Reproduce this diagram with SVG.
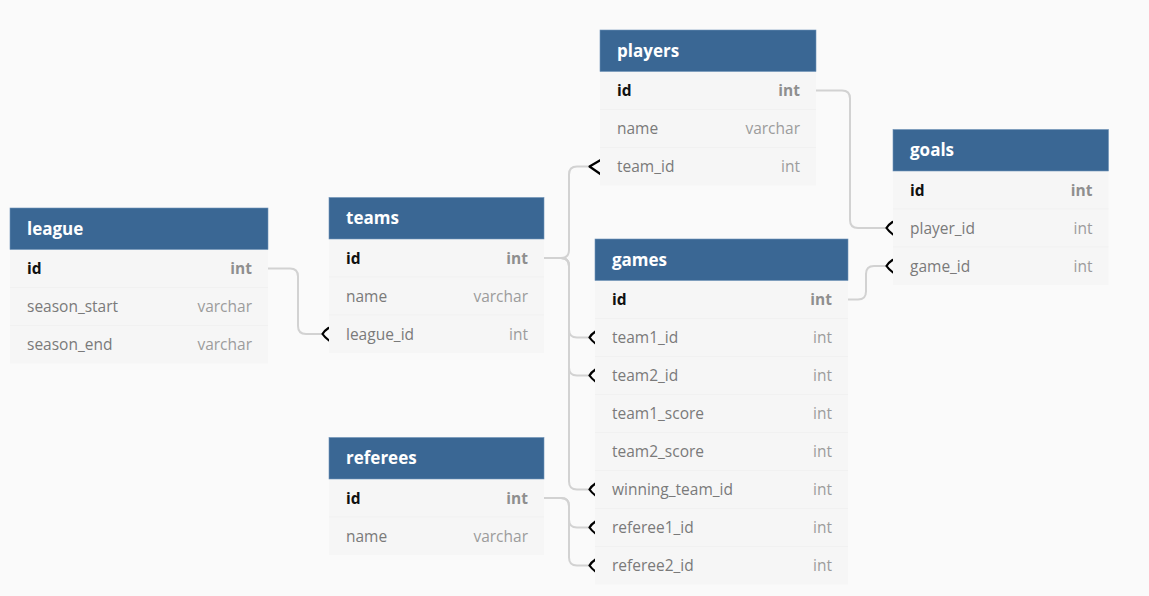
<svg xmlns="http://www.w3.org/2000/svg" xmlns:xlink="http://www.w3.org/1999/xlink" width="1149" height="596" viewBox="0 0 1149 596">
<style>
  .body{fill:#f6f6f6}
  .hdr{fill:#3a6794;stroke:#6f93b8;stroke-width:0.6}
  .sep{stroke:#f1f1f1;stroke-width:1}
  .title{font-family:"Open Sans","Liberation Sans",sans-serif;font-size:17px;font-weight:bold;fill:#ffffff}
  .col{font-family:"Open Sans","Liberation Sans",sans-serif;font-size:15.5px;fill:#7a7a7a}
  .typ{font-family:"Open Sans","Liberation Sans",sans-serif;font-size:15.5px;fill:#9c9c9c;text-anchor:end}
  .pk{font-weight:bold;fill:#111111}
  .pkt{font-weight:bold;fill:#8f8f8f}
  .conn{fill:none;stroke:#d2d2d2;stroke-width:2;marker-end:url(#crow)}
  .conn2{fill:none;stroke:#d2d2d2;stroke-width:2;marker-end:url(#crowlg)}
</style>
<defs>
  <marker id="crow" markerUnits="userSpaceOnUse" markerWidth="12" markerHeight="16" viewBox="-2 -8 12 16" refX="0" refY="0" orient="auto" overflow="visible">
    <path d="M6,-6 Q1.5,-3 0,0 Q2,3 6.5,6.5" fill="none" stroke="#000" stroke-width="2.2" stroke-linecap="round"/>
  </marker>
  <marker id="crowlg" markerUnits="userSpaceOnUse" markerWidth="16" markerHeight="20" viewBox="-2 -10 16 20" refX="0" refY="0" orient="auto" overflow="visible">
    <path d="M12,-7 L0,0 L13,9" fill="none" stroke="#000" stroke-width="2.2" stroke-linecap="round" stroke-linejoin="round"/>
  </marker>
</defs>
<rect width="1149" height="596" fill="#fafafa"/>

<g id="connectors">
  <path class="conn" d="M268,268.5 H290 Q298,268.5 298,276.5 V326 Q298,334 306,334 H322.5"/>
  <path class="conn2" d="M544,258 H561 Q569,258 569,250 V174.5 Q569,166.5 577,166.5 H589.5"/>
  <path class="conn" d="M544,258 H561 Q569,258 569,266 V329.5 Q569,337.5 577,337.5 H589.5"/>
  <path class="conn" d="M544,258 H561 Q569,258 569,266 V367.5 Q569,375.5 577,375.5 H589.5"/>
  <path class="conn" d="M544,258 H561 Q569,258 569,266 V481.5 Q569,489.5 577,489.5 H589.5"/>
  <path class="conn" d="M544,498 H561 Q569,498 569,506 V519.5 Q569,527.5 577,527.5 H589.5"/>
  <path class="conn" d="M544,498 H561 Q569,498 569,506 V557.5 Q569,565.5 577,565.5 H589.5"/>
  <path class="conn" d="M816,90.5 H842 Q850,90.5 850,98.5 V220 Q850,228 858,228 H886.5"/>
  <path class="conn" d="M848,299.5 H858 Q866,299.5 866,291.5 V274 Q866,266 874,266 H886.5"/>
</g>

<g id="league" transform="translate(10,208)">
  <rect class="body" width="258" height="155.5"/>
  <line class="sep" x1="0" y1="79.5" x2="258" y2="79.5"/>
  <line class="sep" x1="0" y1="117.5" x2="258" y2="117.5"/>
  <rect class="hdr" width="258" height="41.5"/>
  <text class="title" x="17" y="26.5">league</text>
  <text class="col pk" x="17" y="66">id</text><text class="typ pkt" x="242" y="66">int</text>
  <text class="col" x="17" y="104">season_start</text><text class="typ" x="242" y="104">varchar</text>
  <text class="col" x="17" y="142">season_end</text><text class="typ" x="242" y="142">varchar</text>
</g>

<g id="teams" transform="translate(329,197.5)">
  <rect class="body" width="215" height="155.5"/>
  <line class="sep" x1="0" y1="79.5" x2="215" y2="79.5"/>
  <line class="sep" x1="0" y1="117.5" x2="215" y2="117.5"/>
  <rect class="hdr" width="215" height="41.5"/>
  <text class="title" x="17" y="26.5">teams</text>
  <text class="col pk" x="17" y="66">id</text><text class="typ pkt" x="199" y="66">int</text>
  <text class="col" x="17" y="104">name</text><text class="typ" x="199" y="104">varchar</text>
  <text class="col" x="17" y="142">league_id</text><text class="typ" x="199" y="142">int</text>
</g>

<g id="players" transform="translate(600,30)">
  <rect class="body" width="216" height="155.5"/>
  <line class="sep" x1="0" y1="79.5" x2="216" y2="79.5"/>
  <line class="sep" x1="0" y1="117.5" x2="216" y2="117.5"/>
  <rect class="hdr" width="216" height="41.5"/>
  <text class="title" x="17" y="26.5">players</text>
  <text class="col pk" x="17" y="66">id</text><text class="typ pkt" x="200" y="66">int</text>
  <text class="col" x="17" y="104">name</text><text class="typ" x="200" y="104">varchar</text>
  <text class="col" x="17" y="142">team_id</text><text class="typ" x="200" y="142">int</text>
</g>

<g id="goals" transform="translate(893,129.5)">
  <rect class="body" width="215.5" height="155.5"/>
  <line class="sep" x1="0" y1="79.5" x2="215.5" y2="79.5"/>
  <line class="sep" x1="0" y1="117.5" x2="215.5" y2="117.5"/>
  <rect class="hdr" width="215.5" height="41.5"/>
  <text class="title" x="17" y="26.5">goals</text>
  <text class="col pk" x="17" y="66">id</text><text class="typ pkt" x="199.5" y="66">int</text>
  <text class="col" x="17" y="104">player_id</text><text class="typ" x="199.5" y="104">int</text>
  <text class="col" x="17" y="142">game_id</text><text class="typ" x="199.5" y="142">int</text>
</g>

<g id="games" transform="translate(595,239)">
  <rect class="body" width="253" height="345.5"/>
  <line class="sep" x1="0" y1="79.5" x2="253" y2="79.5"/>
  <line class="sep" x1="0" y1="117.5" x2="253" y2="117.5"/>
  <line class="sep" x1="0" y1="155.5" x2="253" y2="155.5"/>
  <line class="sep" x1="0" y1="193.5" x2="253" y2="193.5"/>
  <line class="sep" x1="0" y1="231.5" x2="253" y2="231.5"/>
  <line class="sep" x1="0" y1="269.5" x2="253" y2="269.5"/>
  <line class="sep" x1="0" y1="307.5" x2="253" y2="307.5"/>
  <rect class="hdr" width="253" height="41.5"/>
  <text class="title" x="17" y="26.5">games</text>
  <text class="col pk" x="17" y="66">id</text><text class="typ pkt" x="237" y="66">int</text>
  <text class="col" x="17" y="104">team1_id</text><text class="typ" x="237" y="104">int</text>
  <text class="col" x="17" y="142">team2_id</text><text class="typ" x="237" y="142">int</text>
  <text class="col" x="17" y="180">team1_score</text><text class="typ" x="237" y="180">int</text>
  <text class="col" x="17" y="218">team2_score</text><text class="typ" x="237" y="218">int</text>
  <text class="col" x="17" y="256">winning_team_id</text><text class="typ" x="237" y="256">int</text>
  <text class="col" x="17" y="294">referee1_id</text><text class="typ" x="237" y="294">int</text>
  <text class="col" x="17" y="332">referee2_id</text><text class="typ" x="237" y="332">int</text>
</g>

<g id="referees" transform="translate(329,437.5)">
  <rect class="body" width="215" height="117.5"/>
  <line class="sep" x1="0" y1="79.5" x2="215" y2="79.5"/>
  <rect class="hdr" width="215" height="41.5"/>
  <text class="title" x="17" y="26.5">referees</text>
  <text class="col pk" x="17" y="66">id</text><text class="typ pkt" x="199" y="66">int</text>
  <text class="col" x="17" y="104">name</text><text class="typ" x="199" y="104">varchar</text>
</g>
</svg>
